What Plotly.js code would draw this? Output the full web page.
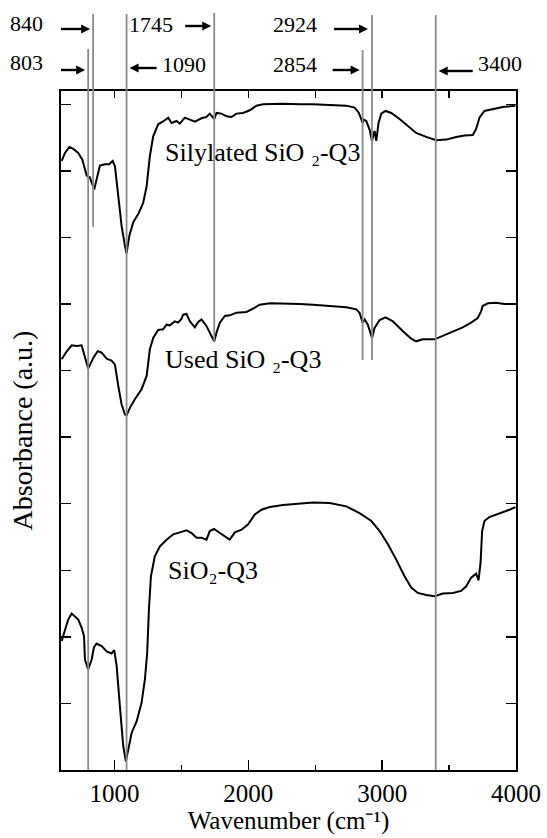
<!DOCTYPE html>
<html>
<head>
<meta charset="utf-8">
<script src="https://cdn.plot.ly/plotly-3.0.1.min.js"></script>
<style>
html,body{margin:0;padding:0;background:#fff;}
#chart{width:547px;height:838px;}
</style>
</head>
<body>
<div id="chart"></div>
<script>
// ---- data (wavenumber cm^-1, absorbance a.u. with offsets as plotted) ----
var silylatedX = [605,630,662,692,729,759,792,816,848,866,891,928,960,986,1003,1028,1053,1078,1090,1110,1140,1177,1214,1240,1264,1289,1326,1376,1401,1426,1463,1488,1525,1563,1600,1650,1687,1712,1745,1762,1799,1837,1874,1911,1960,2010,2060,2110,2259,2384,2483,2732,2794,2826,2854,2864,2881,2906,2924,2943,2956,2973,2993,3025,3068,3130,3192,3254,3329,3404,3478,3553,3615,3677,3702,3727,3764,3826,3901,3995];
var silylatedY = [9.15,9.27,9.36,9.33,9.27,9.17,8.93,8.90,8.72,8.87,9.08,9.10,9.10,9.15,9.07,8.62,8.17,7.87,7.76,8.02,8.23,8.35,8.52,8.77,9.22,9.52,9.70,9.76,9.80,9.72,9.75,9.71,9.80,9.77,9.74,9.79,9.81,9.86,9.78,9.87,9.86,9.82,9.81,9.86,9.87,9.91,9.98,10.00,10.01,10.00,10.00,9.98,9.95,9.87,9.72,9.77,9.75,9.62,9.45,9.60,9.45,9.72,9.86,9.90,9.87,9.78,9.67,9.57,9.51,9.46,9.47,9.51,9.53,9.54,9.63,9.80,9.90,9.93,9.96,9.98];

var usedX = [605,643,680,717,754,779,803,841,874,904,941,978,1003,1028,1053,1078,1090,1115,1152,1202,1240,1264,1289,1326,1363,1389,1413,1451,1475,1501,1513,1538,1563,1600,1625,1650,1687,1719,1745,1762,1787,1824,1861,1911,1986,2035,2085,2160,2259,2384,2483,2732,2806,2831,2854,2869,2893,2924,2943,2981,3025,3080,3155,3217,3254,3304,3391,3453,3528,3602,3665,3714,3739,3751,3789,3851,3913,3995];
var usedY = [6.17,6.29,6.38,6.37,6.38,6.22,6.03,6.19,6.29,6.27,6.18,6.15,6.09,5.77,5.49,5.34,5.33,5.44,5.57,5.72,5.92,6.32,6.49,6.61,6.62,6.69,6.68,6.74,6.72,6.78,6.84,6.85,6.74,6.65,6.73,6.77,6.67,6.54,6.44,6.57,6.72,6.82,6.83,6.87,6.88,6.93,6.99,7.01,7.01,7.00,6.99,6.95,6.92,6.87,6.72,6.77,6.69,6.49,6.64,6.76,6.80,6.74,6.59,6.48,6.44,6.47,6.47,6.52,6.58,6.65,6.72,6.79,6.89,6.97,7.01,7.02,7.00,7.00];

var sio2X = [605,630,654,680,704,729,754,772,779,796,803,829,846,866,904,941,978,998,1016,1040,1065,1085,1102,1128,1165,1202,1227,1244,1257,1272,1301,1339,1389,1438,1488,1538,1575,1613,1650,1687,1712,1744,1787,1824,1861,1899,1949,1998,2048,2098,2160,2259,2359,2483,2607,2732,2831,2919,2981,3043,3105,3167,3217,3266,3329,3391,3453,3528,3590,3628,3665,3702,3720,3735,3747,3764,3801,3876,3951,3996];
var sio2Y = [1.94,2.11,2.26,2.35,2.31,2.26,2.14,2.01,1.66,1.56,1.51,1.66,1.84,1.90,1.86,1.78,1.75,1.80,1.56,0.96,0.36,0.13,0.31,0.56,0.73,1.01,1.36,1.76,2.41,2.91,3.21,3.36,3.46,3.54,3.57,3.60,3.56,3.49,3.49,3.46,3.59,3.62,3.56,3.51,3.46,3.57,3.61,3.69,3.84,3.91,3.95,3.98,4.00,4.02,4.01,3.96,3.86,3.74,3.59,3.39,3.16,2.91,2.74,2.66,2.63,2.61,2.65,2.66,2.69,2.76,2.89,2.95,2.85,3.11,3.59,3.74,3.80,3.85,3.91,3.95];

var seriesNames = ['Silylated SiO₂-Q3', 'Used SiO₂-Q3', 'SiO₂-Q3'];
var labelTexts = ['Silylated SiO ₂-Q3', 'Used SiO ₂-Q3', 'SiO₂-Q3'];
var labelX = [1363, 1363, 1384];
var labelY = [9.28, 6.17, 2.99];

var peaks = [803, 840, 1090, 1745, 2854, 2924, 3400];
var peakLabels = ['803', '840', '1090', '1745', '2854', '2924', '3400'];

var xTickVals = [1000, 2000, 3000, 4000];
var xTickText = ['1000', '2000', '3000', '4000'];

// ---- styling / layout (positions, not data) ----
var FONT = 'Liberation Serif';
var L = 61, R = 31, T = 91, B = 68, W = 547, H = 838;
var PW = W - L - R, PH = H - T - B;
function px2paperX(px) { return (px - L) / PW; }
function px2paperY(py) { return (H - B - py) / PH; }

// per-peak drawing settings (index-aligned with peaks)
var peakStyle = [
  {top: 49, bot: 770, dir: 1,  ay: 70, len: 26, gap: 3, tx: 45,  ty: 63,  anchor: 'right'},
  {top: 14, bot: 227, dir: 1,  ay: 29, len: 33, gap: 3, tx: 45,  ty: 24,  anchor: 'right'},
  {top: 14, bot: 770, dir: -1, ay: 68, len: 27, gap: 3, tx: 160, ty: 65,  anchor: 'left'},
  {top: 13, bot: 341, dir: 1,  ay: 26, len: 26, gap: 3, tx: 175, ty: 25,  anchor: 'right'},
  {top: 50, bot: 360, dir: 1,  ay: 70, len: 27, gap: 3, tx: 319, ty: 65,  anchor: 'right'},
  {top: 15, bot: 360, dir: 1,  ay: 29, len: 34, gap: 4, tx: 319, ty: 25,  anchor: 'right'},
  {top: 15, bot: 770, dir: -1, ay: 71, len: 34, gap: 3, tx: 476, ty: 64,  anchor: 'left'}
];
var HEAD_L = 9, HEAD_W = 9, SHAFT = 2.4;

var shapes = [];
var annotations = [];
peaks.forEach(function (p, i) {
  var s = peakStyle[i];
  var d = s.dir;
  var yA = px2paperY(s.ay);
  shapes.push({type: 'line', xref: 'x', yref: 'paper', x0: p, x1: p,
    y0: px2paperY(s.bot), y1: px2paperY(s.top), line: {color: '#8a8a8a', width: 1.8}});
  shapes.push({type: 'line', xref: 'x', yref: 'paper', xsizemode: 'pixel', xanchor: p,
    x0: -d * (s.gap + s.len), x1: -d * (s.gap + HEAD_L - 1), y0: yA, y1: yA,
    line: {color: '#000', width: SHAFT}});
  var tip = -d * s.gap, base = -d * (s.gap + HEAD_L);
  shapes.push({type: 'path', xref: 'x', yref: 'paper', xsizemode: 'pixel', xanchor: p,
    ysizemode: 'pixel', yanchor: yA,
    path: 'M' + tip + ',0L' + base + ',' + (HEAD_W / 2) + 'L' + base + ',' + (-HEAD_W / 2) + 'Z',
    fillcolor: '#000', line: {width: 0}});
  annotations.push({xref: 'paper', yref: 'paper', x: px2paperX(s.tx), y: px2paperY(s.ty),
    xanchor: s.anchor, yanchor: 'middle', text: peakLabels[i], showarrow: false,
    font: {family: FONT, size: 22, color: '#000'}});
});
labelTexts.forEach(function (t, i) {
  annotations.push({xref: 'x', yref: 'y', x: labelX[i], y: labelY[i], text: t,
    xanchor: 'left', yanchor: 'middle', showarrow: false,
    font: {family: FONT, size: 26, color: '#000'}});
});

var xs = [silylatedX, usedX, sio2X];
var ys = [silylatedY, usedY, sio2Y];
var traces = xs.map(function (x, i) {
  return {x: x, y: ys[i], type: 'scatter', mode: 'lines', name: seriesNames[i],
    line: {color: '#000', width: 2}, hoverinfo: 'skip'};
});
traces.push({x: [4000], y: [0], xaxis: 'x2', yaxis: 'y', type: 'scatter', mode: 'markers',
  marker: {opacity: 0, size: 1}, showlegend: false, hoverinfo: 'skip'});

var layout = {
  width: W, height: H,
  margin: {l: L, r: R, t: T, b: B, pad: 0},
  paper_bgcolor: '#fff', plot_bgcolor: '#fff',
  showlegend: false,
  font: {family: FONT, color: '#000', size: 25},
  xaxis: {range: [600, 4000], tickvals: xTickVals, ticktext: xTickText,
    ticks: 'inside', ticklen: 10, tickwidth: 1.5, tickcolor: '#000',
    minor: {dtick: 500, tick0: 0, ticks: 'inside', ticklen: 5, tickwidth: 1.5, tickcolor: '#000'},
    showline: true, linecolor: '#000', linewidth: 1.8, mirror: false,
    showgrid: false, zeroline: false,
    tickfont: {family: FONT, size: 25, color: '#000'},
    title: {text: 'Wavenumber (cm⁻¹)', font: {family: FONT, size: 25, color: '#000'}, standoff: 4}},
  xaxis2: {overlaying: 'x', side: 'top', anchor: 'y', matches: 'x', range: [600, 4000],
    dtick: 500, tick0: 0, ticks: 'inside', ticklen: 7, tickwidth: 1.5, tickcolor: '#000',
    showticklabels: false, showline: true, linecolor: '#000', linewidth: 1.8,
    showgrid: false, zeroline: false},
  yaxis: {range: [0, 10.2], dtick: 1, tick0: 0, ticks: 'inside', ticklen: 10, tickwidth: 1.5,
    tickcolor: '#000', showticklabels: false, showline: true, linecolor: '#000', linewidth: 1.8,
    mirror: 'ticks', showgrid: false, zeroline: false,
    title: {text: 'Absorbance (a.u.)', font: {family: FONT, size: 28, color: '#000'}, standoff: 18}},
  shapes: shapes,
  annotations: annotations
};

var config = {staticPlot: true, displayModeBar: false};
Plotly.newPlot('chart', traces, layout, config);
if (document.fonts && document.fonts.load) {
  document.fonts.load('25px "Liberation Serif"').then(function () {
    return document.fonts.ready;
  }).then(function () {
    Plotly.newPlot('chart', traces, layout, config);
  });
}
</script>
</body>
</html>
